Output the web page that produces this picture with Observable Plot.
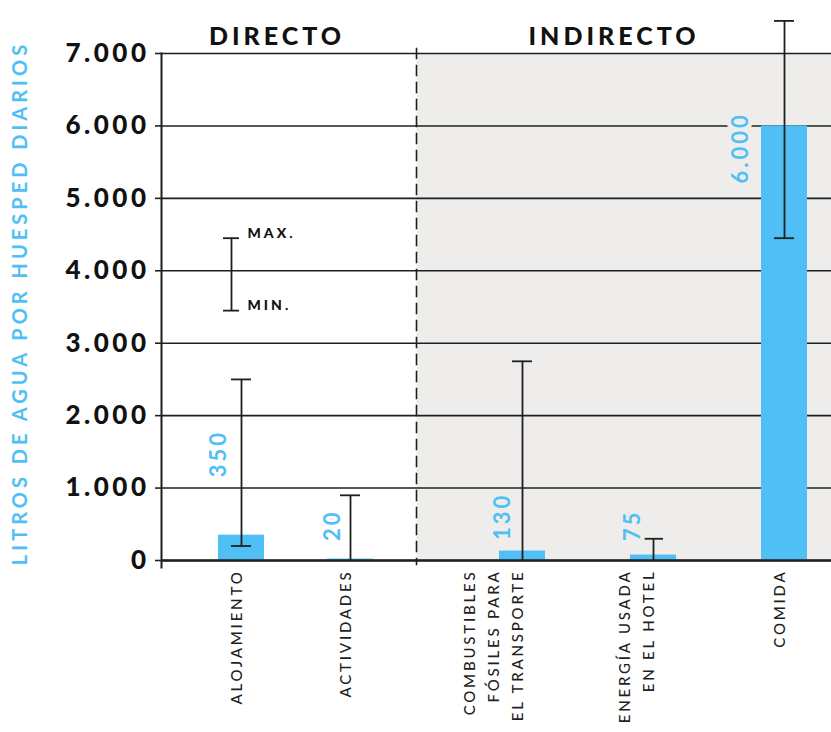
<!DOCTYPE html>
<html>
<head>
<meta charset="utf-8">
<script src="https://cdn.jsdelivr.net/npm/d3@7"></script>
<script src="https://cdn.jsdelivr.net/npm/@observablehq/plot@0.6"></script>
<style>
  html, body { margin: 0; padding: 0; background: #fff; overflow: hidden; }
  #chart { display: flex; width: 831px; height: 732px; }
  #chart svg { display: block; flex: none; }
  /* letter spacing per text role (roles told apart by their font size) */
  g[aria-label="y-axis tick label"] text { letter-spacing: 3.5px; }
  g[font-size="20"] text { letter-spacing: 4px; }
  g[font-size="25"] text { letter-spacing: 4px; }
  g[font-size="15"] text { letter-spacing: 2.8px; }
  g[font-size="22"] text { letter-spacing: 3px; }
  g[font-size="14"] text { letter-spacing: 3px; }
</style>
</head>
<body>
<div id="chart"></div>
<script>
// ---------- data ----------
const groupTitles = ["DIRECTO", "INDIRECTO"];

const categoriesDirect = ["ALOJAMIENTO", "ACTIVIDADES"];
const valuesDirect = [350, 20];
const minDirect = [200, 0];
const maxDirect = [2500, 900];

const categoriesIndirect = ["COMBUSTIBLES\nFÓSILES PARA\nEL TRANSPORTE", "ENERGÍA USADA\nEN EL HOTEL", "COMIDA"];
const valuesIndirect = [130, 75, 6000];
const minIndirect = [0, 0, 4450];
const maxIndirect = [2750, 300, 7450];

const yTicks = [0, 1000, 2000, 3000, 4000, 5000, 6000, 7000];
const yTitle = "LITROS DE AGUA POR HUESPED DIARIOS";

const legendLabels = ["MAX.", "MIN."];
const legendValues = [4450, 3450];

// ---------- layout / style ----------
const BLUE = "#4fbff6";
const INK = "#1f1f1f";
const GREY = "#eeedeb";
const H = 732, MT = 53, MB = 172;
const fmt = d3.formatLocale({decimal: ",", thousands: ".", grouping: [3], currency: ["", ""]}).format(",");

// label offsets (px) relative to the bar top: [dx, dy, anchor]
const labelShift = {
  "ALOJAMIENTO": [-23, -58, "start"],
  "ACTIVIDADES": [-18, -18, "start"],
  "COMBUSTIBLES\nFÓSILES PARA\nEL TRANSPORTE": [-20, -11, "start"],
  "ENERGÍA USADA\nEN EL HOTEL": [-21, -14, "start"],
  "COMIDA": [-44, 22, "middle"]
};

function rowsOf(cats, vals, mins, maxs) {
  return cats.map((c, i) => ({cat: c, value: vals[i], min: mins[i], max: maxs[i]}));
}

function panel({rows, width, marginLeft, title, titleDx, fill, halo, xPad, extra = [], frameLine}) {
  const marks = [];
  if (fill) marks.push(Plot.frame({fill, stroke: null}));
  marks.push(Plot.ruleY(yTicks, {stroke: INK, strokeWidth: 1.6}));
  marks.push(Plot.barY(rows, {x: "cat", y: "value", fill: BLUE}));
  marks.push(Plot.ruleY([0], {stroke: INK, strokeWidth: 2.4}));
  marks.push(frameLine);
  marks.push(Plot.ruleX(rows, {x: "cat", y1: "min", y2: "max", stroke: INK, strokeWidth: 1.8}));
  marks.push(Plot.tickY(rows, {x: "cat", y: "max", stroke: INK, strokeWidth: 1.8, insetLeft: 13, insetRight: 13}));
  marks.push(Plot.tickY(rows.filter(d => d.min > 0), {x: "cat", y: "min", stroke: INK, strokeWidth: 1.8, insetLeft: 13, insetRight: 13}));
  rows.forEach(d => {
    const [dx, dy, anchor] = labelShift[d.cat];
    marks.push(Plot.text([d], {
      x: "cat", y: "value", text: r => fmt(r.value),
      rotate: -90, textAnchor: anchor, dx, dy,
      fill: BLUE, stroke: halo, strokeWidth: 9, paintOrder: "stroke", strokeLinejoin: "round",
      fontSize: 22, fontWeight: "bold"
    }));
  });
  marks.push(Plot.text(rows, {
    x: "cat", text: "cat", frameAnchor: "bottom", rotate: -90, textAnchor: "end",
    dy: 9, lineHeight: 1.58, fontSize: 15, fontWeight: 500, fill: INK
  }));
  marks.push(Plot.text([title], {
    frameAnchor: "top", textAnchor: "middle", dy: -26, dx: titleDx, fontSize: 25, fontWeight: 900,
    fill: "#111"
  }));
  marks.push(...extra);
  return Plot.plot({
    width, height: H,
    marginTop: MT, marginBottom: MB, marginLeft, marginRight: 0,
    style: {fontFamily: "Lato, 'Open Sans', sans-serif", background: "transparent", overflow: "visible"},
    x: {domain: rows.map(d => d.cat), axis: null, ...xPad},
    y: {domain: [0, 7000], axis: null},
    marks
  });
}

const direct = rowsOf(categoriesDirect, valuesDirect, minDirect, maxDirect);
const indirect = rowsOf(categoriesIndirect, valuesIndirect, minIndirect, maxIndirect);
const legendRange = [{lo: d3.min(legendValues), hi: d3.max(legendValues)}];
const legendRows = legendLabels.map((l, i) => ({label: l, value: legendValues[i]}));
const keyCat = () => categoriesDirect[0];

const left = panel({
  rows: direct, width: 416, marginLeft: 161,
  title: groupTitles[0], titleDx: -12, halo: "#fff",
  xPad: {paddingInner: 0.578, paddingOuter: 0.4587, align: 0.57},
  frameLine: Plot.frame({anchor: "left", stroke: INK, strokeWidth: 2, insetBottom: -7}),
  extra: [
    Plot.axisY({ticks: yTicks, tickFormat: fmt, tickSize: 6, tickPadding: 6, stroke: INK, strokeWidth: 1.6,
      fontSize: 26, fontWeight: 900, color: "#111", label: null}),
    Plot.text([yTitle], {frameAnchor: "left", textAnchor: "middle", dx: -141, dy: -4, rotate: -90,
      fontSize: 20, fontWeight: "bold", fill: BLUE}),
    Plot.ruleX(legendRange, {x: keyCat, y1: "lo", y2: "hi", dx: -10, stroke: INK, strokeWidth: 1.8}),
    Plot.tickY(legendRows, {x: keyCat, y: "value", dx: -10, insetLeft: 15, insetRight: 15, stroke: INK, strokeWidth: 1.8}),
    Plot.text(legendRows, {x: keyCat, y: "value", text: "label", dx: 6, dy: -5, textAnchor: "start",
      fontSize: 14, fontWeight: 900, fill: "#111"})
  ]
});

const right = panel({
  rows: indirect, width: 415, marginLeft: 0,
  title: groupTitles[1], titleDx: -10, fill: GREY, halo: GREY,
  xPad: {paddingInner: 0.6495, paddingOuter: 0.406, align: 0.779},
  frameLine: Plot.frame({anchor: "left", stroke: INK, strokeWidth: 1.6, strokeDasharray: "10,7", insetTop: -5, insetBottom: -4})
});

document.getElementById("chart").append(left, right);
</script>
</body>
</html>
